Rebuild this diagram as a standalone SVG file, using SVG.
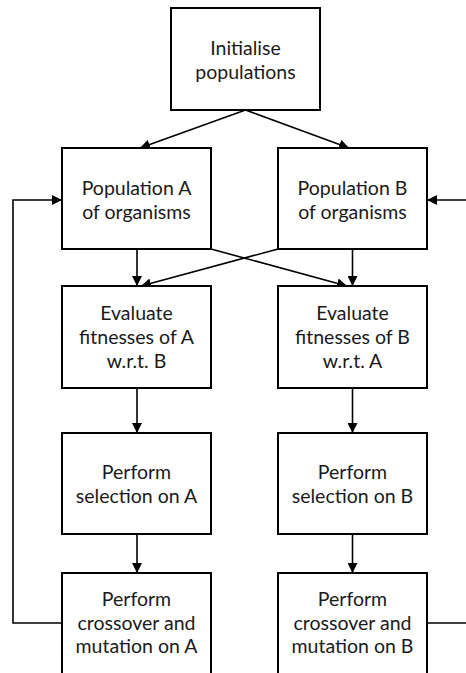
<svg xmlns="http://www.w3.org/2000/svg" width="466" height="673" viewBox="0 0 466 673">
  <defs>
    <marker id="arrow" viewBox="0 0 10 10" refX="10" refY="5" markerWidth="10" markerHeight="10" markerUnits="userSpaceOnUse" orient="auto">
      <path d="M0,0 L10,5 L0,10 Z" fill="#000"/>
    </marker>
  </defs>
  <style>
    .box { fill: #fff; stroke: #000; stroke-width: 2; }
    .lbl { font-family: Lato, "Open Sans", "Liberation Sans", sans-serif; font-size: 19.5px; fill: #1a1a1a; text-anchor: middle; }
    .edge { fill: none; stroke: #000; stroke-width: 1.6; marker-end: url(#arrow); }
    .line { fill: none; stroke: #000; stroke-width: 1.6; }
  </style>
  <rect width="466" height="673" fill="#fff"/>

  <g id="connectors">
    <path class="edge" d="M245.5,110 L140,148"/>
    <path class="edge" d="M245.5,110 L349,148"/>
    <path class="edge" d="M137,249 L137,286"/>
    <path class="edge" d="M352.5,249 L352.5,286"/>
    <path class="edge" d="M211,249 L347,286"/>
    <path class="edge" d="M278,249 L141,286"/>
    <path class="edge" d="M137,388 L137,433"/>
    <path class="edge" d="M352.5,388 L352.5,433"/>
    <path class="edge" d="M137,534 L137,573"/>
    <path class="edge" d="M352.5,534 L352.5,573"/>
    <path class="edge" d="M62,623 L13,623 L13,200 L62,200"/>
    <path class="line" d="M427,623 L466,623"/>
    <path class="edge" d="M466,200 L427,200"/>
  </g>

  <g id="init">
    <rect class="box" x="171" y="8" width="149" height="102"/>
    <text class="lbl" x="245.5" y="55">Initialise</text>
    <text class="lbl" x="245.5" y="79">populations</text>
  </g>
  <g id="popA">
    <rect class="box" x="62" y="148" width="149" height="101"/>
    <text class="lbl" x="136.5" y="195">Population A</text>
    <text class="lbl" x="136.5" y="219">of organisms</text>
  </g>
  <g id="popB">
    <rect class="box" x="278" y="148" width="149" height="101"/>
    <text class="lbl" x="352.5" y="195">Population B</text>
    <text class="lbl" x="352.5" y="219">of organisms</text>
  </g>
  <g id="evalA">
    <rect class="box" x="62" y="286" width="149" height="102"/>
    <text class="lbl" x="136.5" y="320">Evaluate</text>
    <text class="lbl" x="136.5" y="344">fitnesses of A</text>
    <text class="lbl" x="136.5" y="368">w.r.t. B</text>
  </g>
  <g id="evalB">
    <rect class="box" x="278" y="286" width="149" height="102"/>
    <text class="lbl" x="352.5" y="320">Evaluate</text>
    <text class="lbl" x="352.5" y="344">fitnesses of B</text>
    <text class="lbl" x="352.5" y="368">w.r.t. A</text>
  </g>
  <g id="selA">
    <rect class="box" x="62" y="433" width="149" height="101"/>
    <text class="lbl" x="136.5" y="479">Perform</text>
    <text class="lbl" x="136.5" y="503">selection on A</text>
  </g>
  <g id="selB">
    <rect class="box" x="278" y="433" width="149" height="101"/>
    <text class="lbl" x="352.5" y="479">Perform</text>
    <text class="lbl" x="352.5" y="503">selection on B</text>
  </g>
  <g id="mutA">
    <rect class="box" x="62" y="573" width="149" height="104"/>
    <text class="lbl" x="136.5" y="606">Perform</text>
    <text class="lbl" x="136.5" y="630">crossover and</text>
    <text class="lbl" x="136.5" y="653">mutation on A</text>
  </g>
  <g id="mutB">
    <rect class="box" x="278" y="573" width="149" height="104"/>
    <text class="lbl" x="352.5" y="606">Perform</text>
    <text class="lbl" x="352.5" y="630">crossover and</text>
    <text class="lbl" x="352.5" y="653">mutation on B</text>
  </g>
</svg>
